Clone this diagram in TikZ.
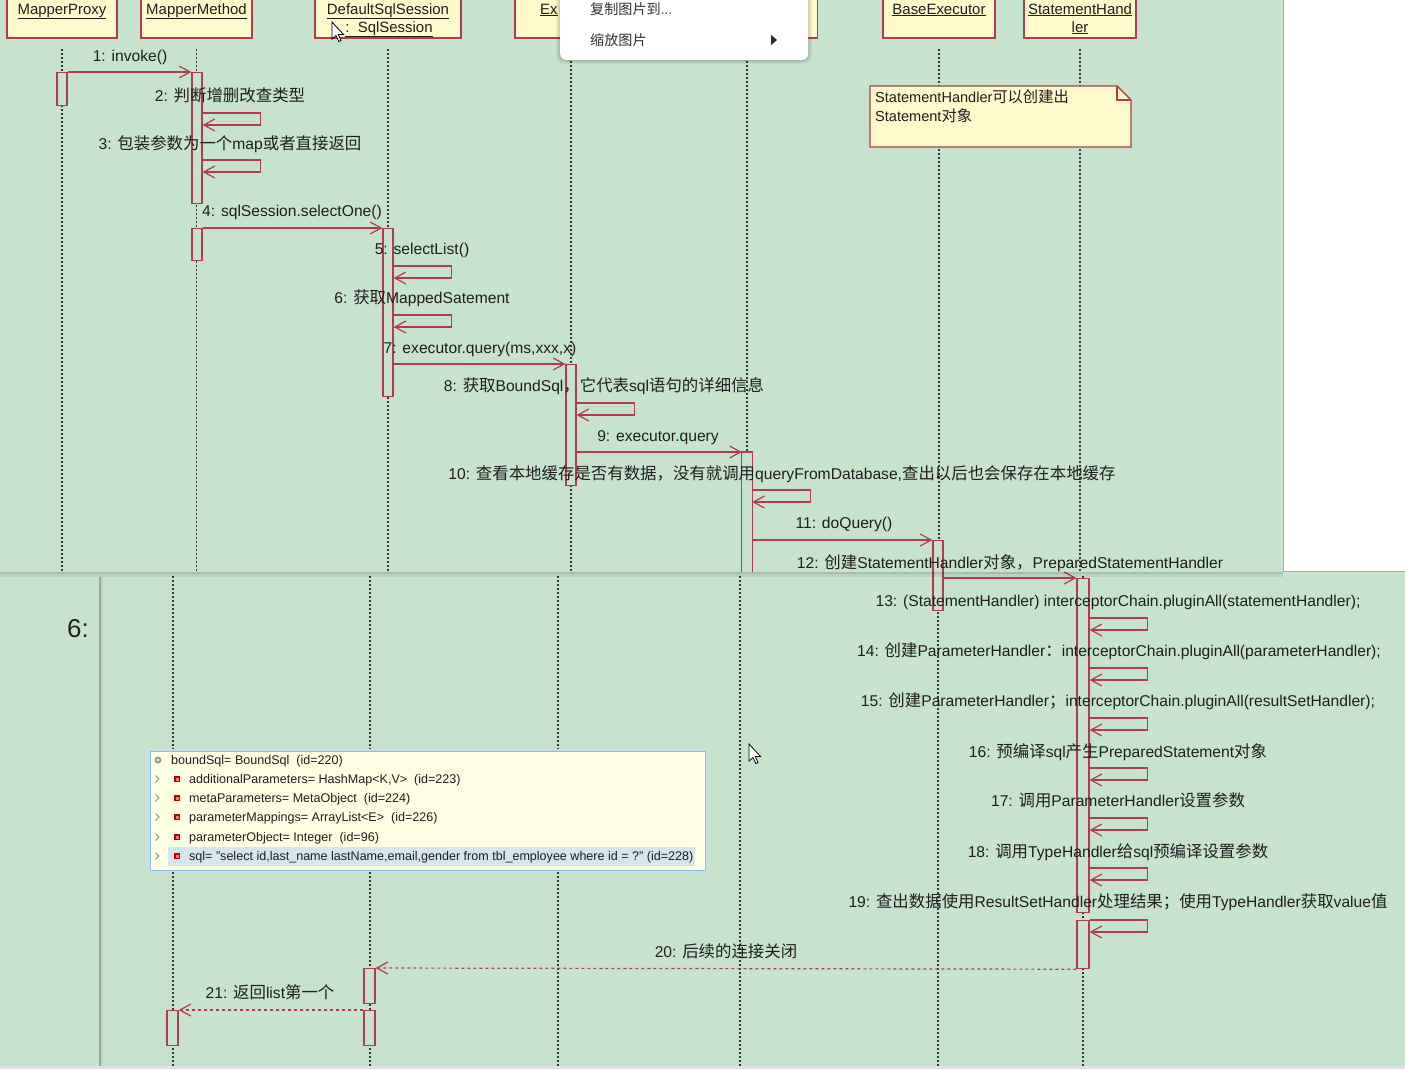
\documentclass[tikz,border=0pt]{standalone}
\usepackage{fontspec}
\setmainfont{Liberation Sans}
\newfontfamily\cjk[Scale=1.05]{Noto Sans CJK SC}
\usetikzlibrary{arrows.meta,calc}
\newcommand\zh[1]{{\cjk #1}}
\definecolor{bg}{RGB}{199,227,206}
\definecolor{boxfill}{RGB}{254,250,203}
\definecolor{umlred}{RGB}{176,60,80}
\definecolor{txt}{RGB}{30,30,30}
\definecolor{lifec}{RGB}{55,55,55}
\definecolor{dbgfill}{RGB}{255,255,228}
\definecolor{dbgborder}{RGB}{140,188,232}
\definecolor{dbgglow}{RGB}{196,222,246}
\definecolor{hlrow}{RGB}{214,230,234}
\definecolor{blueedge}{RGB}{130,176,222}
\definecolor{menutxt}{RGB}{50,50,50}
\tikzset{
 hdr/.style={draw=umlred, line width=1.4bp, fill=boxfill, inner sep=0, minimum height=46bp},
 hdrtxt/.style={anchor=base, inner sep=0, font=\fontsize{15}{18}\selectfont, text=txt},
 actbar/.style={draw=umlred, line width=1.2bp, fill=bg, inner sep=0, anchor=north},
 msg/.style={draw=umlred, line width=1.2bp, -{Straight Barb[length=11bp,width=12bp]}},
 ret/.style={msg, dash pattern=on 3bp off 3bp},
 lifeline/.style={draw=lifec, line width=1.4bp, dash pattern=on 2bp off 2bp},
 lbl/.style={anchor=base, inner sep=0, font=\fontsize{15.7}{18}\selectfont, text=txt},
 dbgtxt/.style={anchor=base west, inner sep=0, font=\fontsize{12.6}{14}\selectfont, text=txt},
}
\newcommand\actv[5]{\node[actbar, minimum width=#5bp, minimum height=#4bp] (#1) at (#2,#3) {};}
\newcommand\selfc[2]{\draw[msg] (#1.east |- 0,#2) -- ++(58,0) -- ++(0,12) -- ++(-58,0);}
\newcommand\mycursor[2]{\begin{scope}[shift={(#1,#2)}]
 \filldraw[fill=white, draw=black, line width=0.8bp] (0,0) -- (0,17) -- (4,13.5) -- (6.8,19.5) -- (9,18.5) -- (6.3,12.5) -- (11.5,12.5) -- cycle;
 \end{scope}}
\begin{document}
\begin{tikzpicture}[x=1bp,y=-1bp]
\useasboundingbox (0,0) rectangle (1405,1069);
\fill[bg] (0,0) rectangle (1405,1069);

% ---------- header boxes (top screenshot)
\node[hdr, minimum width=110bp] (mp)   at (62,15) {};
\node[hdr, minimum width=111bp] (mm)   at (196.5,15) {};
\node[hdr, minimum width=146bp] (dss)  at (388,15) {};
\node[hdr, minimum width=112bp] (exeh) at (571,15) {};
\node[hdr, minimum width=141bp] (cexh) at (747,15) {};
\node[hdr, minimum width=112bp] (base) at (939,15) {};
\node[hdr, minimum width=112bp] (shh)  at (1080,15) {};

% ---------- lifelines (top screenshot)
\foreach \n in {mp,mm,dss,exeh,cexh,base,shh}{
  \draw[lifeline] ([yshift=-10bp]\n.south) -- (\n.south |- 0,572);
}
% ---------- lifelines (bottom screenshot)
\coordinate (lbA) at (173,576);
\coordinate (lbB) at (370,576);
\coordinate (lbC) at (558,576);
\coordinate (lbD) at (740,576);
\coordinate (lbE) at (938,576);
\coordinate (lbF) at (1083,576);
\foreach \c in {lbA,lbB,lbC,lbD,lbE,lbF}{
  \draw[lifeline] (\c) -- (\c |- 0,1066);
}

% header texts
\node[hdrtxt] (mpT) at (62,14) {\underline{MapperProxy}};
\node[hdrtxt] (mmT) at (196.5,14) {\underline{MapperMethod}};
\node[hdrtxt] (dssT) at (388,14) {\underline{DefaultSqlSession}};
\node[hdrtxt] (dssT2) at (389,32) {\underline{:\ \ SqlSession}};
\node[hdrtxt, anchor=base west] (exeT) at (540,14) {\underline{Ex}};
\node[hdrtxt] (baseT) at (939,14) {\underline{BaseExecutor}};
\node[hdrtxt] (shT) at (1080,14) {\underline{StatementHand}};
\node[hdrtxt] (shT2) at (1080,32) {\underline{ler}};

% ---------- note
\filldraw[fill=boxfill, draw=umlred, line width=1.4bp] (870,86) -- (1117,86) -- (1131,100) -- (1131,147) -- (870,147) -- cycle;
\draw[umlred, line width=1.2bp] (1117,86) -- (1117,100) -- (1131,100);
\node[anchor=base west, inner sep=0, font=\fontsize{14.6}{17}\selectfont, text=txt] (note1) at (875,102) {StatementHandler\zh{可以创建出}};
\node[anchor=base west, inner sep=0, font=\fontsize{14.6}{17}\selectfont, text=txt] (note2) at (875,121) {Statement\zh{对象}};

% ---------- activations
\actv{mpA}{62}{72}{33}{10}
\actv{mmA}{197}{72}{131}{10}
\actv{mmB}{197}{228}{32}{10}
\actv{dssA}{388}{228}{168}{10}
\actv{exeA}{571}{364}{121}{10}
\node[fill=bg, inner sep=0, anchor=north, minimum width=10bp, minimum height=120bp] (cexA) at (747,452) {};
\draw[umlred, line width=1.2bp] (cexA.south west) -- (cexA.north west) -- (cexA.north east) -- (cexA.south east);
\actv{baseA}{938}{540}{70}{10}
\actv{shA}{1083}{578}{334}{12}
\actv{shB}{1083}{920}{48}{12}
\actv{dssB}{369.5}{968}{35}{11}
\actv{dssC}{369.5}{1010}{35}{11}
\actv{mmC}{172.5}{1010}{35}{11}

% ---------- messages
\draw[msg] (mpA.north east) -- (mmA.north west);
\selfc{mmA}{113}
\selfc{mmA}{160}
\draw[msg] (mmB.north east) -- (dssA.north west);
\selfc{dssA}{266}
\selfc{dssA}{315}
\draw[msg] (dssA.east |- exeA.north) -- (exeA.north west);
\selfc{exeA}{403}
\draw[msg] (exeA.east |- cexA.north) -- (cexA.north west);
\selfc{cexA}{490}
\draw[msg] (cexA.east |- baseA.north) -- (baseA.north west);
\draw[msg] (baseA.east |- shA.north) -- (shA.north west);
\selfc{shA}{618}
\selfc{shA}{668}
\selfc{shA}{718}
\selfc{shA}{768}
\selfc{shA}{818}
\selfc{shA}{868}
\selfc{shB}{920}
\draw[ret] (shB.south west) -- (dssB.north east);
\draw[ret] (dssC.north west) -- (mmC.north east);

% ---------- labels
\node[lbl] (l1) at (130,61) {1: invoke()};
\node[lbl] (l2) at (230,101) {2: \zh{判断增删改查类型}};
\node[lbl] (l3) at (230,149) {3: \zh{包装参数为一个}map\zh{或者直接返回}};
\node[lbl] (l4) at (292,216) {4: sqlSession.selectOne()};
\node[lbl] (l5) at (422,254) {5: selectList()};
\node[lbl] (l6) at (422,303) {6: \zh{获取}MappedSatement};
\node[lbl] (l7) at (480,353) {7: executor.query(ms,xxx,x)};
\node[lbl] (l8) at (604,391) {8: \zh{获取}BoundSql\zh{，它代表}sql\zh{语句的详细信息}};
\node[lbl] (l9) at (658,441) {9: executor.query};
\node[lbl] (l10) at (782,479) {10: \zh{查看本地缓存是否有数据，没有就调用}queryFromDatabase,\zh{查出以后也会保存在本地缓存}};
\node[lbl] (l11) at (844,528) {11: doQuery()};
\node[lbl] (l12) at (1010,568) {12: \zh{创建}StatementHandler\zh{对象，}PreparedStatementHandler};
\node[lbl] (l13) at (1118,606) {13: (StatementHandler) interceptorChain.pluginAll(statementHandler);};
\node[lbl] (l14) at (1119,656) {14: \zh{创建}ParameterHandler\zh{：}interceptorChain.pluginAll(parameterHandler);};
\node[lbl] (l15) at (1118,706) {15: \zh{创建}ParameterHandler\zh{；}interceptorChain.pluginAll(resultSetHandler);};
\node[lbl] (l16) at (1118,757) {16: \zh{预编译}sql\zh{产生}PreparedStatement\zh{对象}};
\node[lbl] (l17) at (1118,806) {17: \zh{调用}ParameterHandler\zh{设置参数}};
\node[lbl] (l18) at (1118,857) {18: \zh{调用}TypeHandler\zh{给}sql\zh{预编译设置参数}};
\node[lbl] (l19) at (1118,907) {19: \zh{查出数据使用}ResultSetHandler\zh{处理结果；使用}TypeHandler\zh{获取}value\zh{值}};
\node[lbl] (l20) at (726,957) {20: \zh{后续的连接关闭}};
\node[lbl] (l21) at (270,998) {21: \zh{返回}list\zh{第一个}};

% ---------- debugger hover box
\draw[dbgglow, line width=4bp] (150,751) rectangle (705,870);
\node[draw=dbgborder, fill=dbgfill, line width=1.2bp, inner sep=0, anchor=north west, minimum width=555bp, minimum height=119bp] (dbg) at (150,751) {};
\fill[hlrow] (168,847) rectangle (695,866);
\fill[black!40] (158,760) circle (3.5bp);
\fill[white] (158,760) circle (1.3bp);
\foreach \yy in {779,798,817,837,856}{
  \draw[black!45, line width=0.9bp] (155.5,\yy-3.5) -- (159,\yy) -- (155.5,\yy+3.5);
  \fill[red!75!black] (174,\yy-3) rectangle (180,\yy+3);
  \fill[red!55] (175.5,\yy-1.5) rectangle (178.5,\yy+1.5);
}
\node[dbgtxt] (d0) at (171,764.5) {boundSql= BoundSql\ \ (id=220)};
\node[dbgtxt] (d1) at (189,783.5) {additionalParameters= HashMap<K,V>\ \ (id=223)};
\node[dbgtxt] (d2) at (189,802.5) {metaParameters= MetaObject\ \ (id=224)};
\node[dbgtxt] (d3) at (189,821.5) {parameterMappings= ArrayList<E>\ \ (id=226)};
\node[dbgtxt] (d4) at (189,841.5) {parameterObject= Integer\ \ (id=96)};
\node[dbgtxt] (d5) at (189,860.5) {sql= "select id,last\_name lastName,email,gender from tbl\_employee where id = ?" (id=228)};

% ---------- white region right of the top screenshot
\fill[white] (1283,0) rectangle (1405,571);
\draw[blueedge, line width=1.5bp] (1283.5,0) -- (1283.5,571.5) -- (1405,571.5);

% ---------- seam of the two screenshots
\fill[black, opacity=0.16] (0,572) rectangle (1283,574);
\fill[black, opacity=0.07] (0,574) rectangle (1283,577);
\fill[black, opacity=0.25] (99,577) rectangle (101,1066);
\fill[black, opacity=0.07] (101,577) rectangle (103,1066);
\fill[black!12] (0,1066) rectangle (1405,1069);
\node[anchor=base, inner sep=0, font=\fontsize{26}{30}\selectfont, text=txt] (six) at (78,637) {6:};

% ---------- context menu
\foreach \i in {1,2,3,4}{
  \fill[black, opacity=0.045, rounded corners=8bp] (560-\i,-10) rectangle (808+\i,60+\i);
}
\node[fill=white, rounded corners=6bp, inner sep=0, anchor=south west, minimum width=248bp, minimum height=72bp] (menu) at (560,60) {};
\node[anchor=base west, inner sep=0, font=\fontsize{13.5}{16}\selectfont, text=menutxt] (m1) at (590,14) {\zh{复制图片到}...};
\node[anchor=base west, inner sep=0, font=\fontsize{13.5}{16}\selectfont, text=menutxt] (m2) at (590,45) {\zh{缩放图片}};
\fill[black!85] (771,35) -- (777,40) -- (771,45) -- cycle;

% ---------- mouse cursors
\mycursor{332}{22}
\mycursor{749}{744}
\end{tikzpicture}
\end{document}
